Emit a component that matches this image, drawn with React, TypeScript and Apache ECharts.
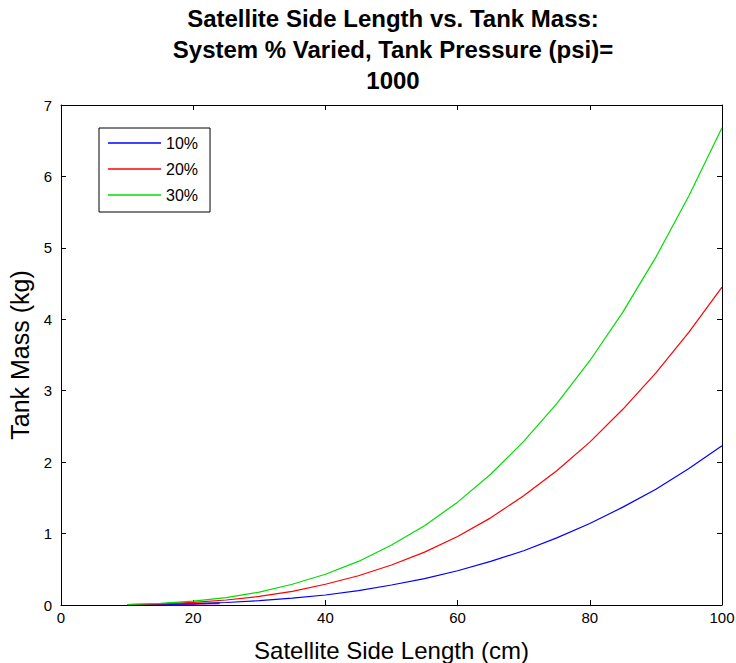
import React, { useEffect, useRef } from "react";
import * as echarts from "echarts";

const sideLength = [10, 15, 20, 25, 30, 35, 40, 45, 50, 55, 60, 65, 70, 75, 80, 85, 90, 95, 100];
const mass10 = [0.002, 0.008, 0.018, 0.035, 0.06, 0.095, 0.14, 0.2, 0.28, 0.37, 0.48, 0.61, 0.76, 0.94, 1.14, 1.37, 1.62, 1.91, 2.23];
const mass20 = [0.004, 0.015, 0.036, 0.07, 0.12, 0.19, 0.29, 0.41, 0.56, 0.74, 0.96, 1.22, 1.53, 1.88, 2.28, 2.74, 3.25, 3.82, 4.45];
const mass30 = [0.007, 0.023, 0.053, 0.104, 0.18, 0.29, 0.43, 0.61, 0.84, 1.11, 1.44, 1.83, 2.29, 2.82, 3.42, 4.1, 4.87, 5.73, 6.68];

// short near-zero traces visible at the bottom-left of the reference
const extraX = [16, 18, 20, 22, 24];
const extraYellow = [0.01, 0.015, 0.02, 0.025, 0.03];
const extraMagenta = [0.005, 0.008, 0.012, 0.016, 0.02];

const seriesNames = ["10%", "20%", "30%"];
const seriesColors = ["#0000ff", "#ff0000", "#00dd00"];
const xTicks = { min: 0, max: 100, interval: 20 };
const yTicks = { min: 0, max: 7, interval: 1 };

export default function App() {
  const ref = useRef<HTMLDivElement>(null);
  useEffect(() => {
    if (!ref.current) return;
    const chart = echarts.init(ref.current, undefined, { renderer: "svg" });
    const font = "'Liberation Sans', Arial, sans-serif";
    const pair = (xs: number[], ys: number[]) => xs.map((x, i) => [x, ys[i]]);
    const all = [mass10, mass20, mass30];
    const axisCommon = {
      axisLine: { show: true, onZero: false, lineStyle: { color: "#000", width: 1 } },
      axisTick: { show: true, inside: true, length: 5, lineStyle: { color: "#000" } },
      splitLine: { show: false },
    };
    chart.setOption({
      animation: false,
      backgroundColor: "#fff",
      title: {
        text: "Satellite Side Length vs. Tank Mass:\nSystem % Varied, Tank Pressure (psi)=\n1000",
        left: 388,
        top: -2,
        textAlign: "center",
        textStyle: { fontFamily: font, fontSize: 24, fontWeight: "bold", lineHeight: 31, color: "#000" },
      },
      legend: {
        data: seriesNames,
        orient: "vertical",
        left: 99,
        top: 128,
        icon: "rect",
        itemWidth: 53,
        itemHeight: 1.5,
        itemGap: 10,
        padding: [7, 12, 9, 9],
        borderColor: "#000",
        borderWidth: 1,
        textStyle: { fontFamily: font, fontSize: 16, color: "#000" },
      },
      grid: { left: 61, right: 14, top: 105, bottom: 58, outerBoundsMode: "none", containLabel: false },
      xAxis: [
        {
          type: "value",
          ...xTicks,
          position: "bottom",
          name: "Satellite Side Length (cm)",
          nameLocation: "middle",
          nameGap: 33,
          nameTextStyle: { fontFamily: font, fontSize: 24, color: "#000" },
          axisLabel: { fontFamily: font, fontSize: 15, color: "#000", margin: 5 },
          ...axisCommon,
        },
        {
          type: "value",
          ...xTicks,
          position: "top",
          axisLabel: { show: false },
          ...axisCommon,
        },
      ],
      yAxis: [
        {
          type: "value",
          ...yTicks,
          position: "left",
          name: "Tank Mass (kg)",
          nameLocation: "middle",
          nameGap: 27,
          nameTextStyle: { fontFamily: font, fontSize: 25, color: "#000" },
          axisLabel: { fontFamily: font, fontSize: 15, color: "#000", margin: 9 },
          ...axisCommon,
        },
        {
          type: "value",
          ...yTicks,
          position: "right",
          axisLabel: { show: false },
          ...axisCommon,
        },
      ],
      series: [
        {
          name: "extra-y",
          type: "line",
          symbol: "none",
          data: pair(extraX, extraYellow),
          lineStyle: { color: "#bfbf00", width: 1.5 },
          itemStyle: { color: "#bfbf00" },
          silent: true,
        },
        {
          name: "extra-m",
          type: "line",
          symbol: "none",
          data: pair(extraX, extraMagenta),
          lineStyle: { color: "#bf00bf", width: 1.5 },
          itemStyle: { color: "#bf00bf" },
          silent: true,
        },
        ...seriesNames.map((n, i) => ({
          name: n,
          type: "line",
          symbol: "none",
          data: pair(sideLength, all[i]),
          lineStyle: { color: seriesColors[i], width: 1.2 },
          itemStyle: { color: seriesColors[i] },
        })),
      ],
    });
    return () => chart.dispose();
  }, []);
  return <div ref={ref} style={{ width: 736, height: 663, position: "absolute", left: 0, top: 0 }} />;
}
